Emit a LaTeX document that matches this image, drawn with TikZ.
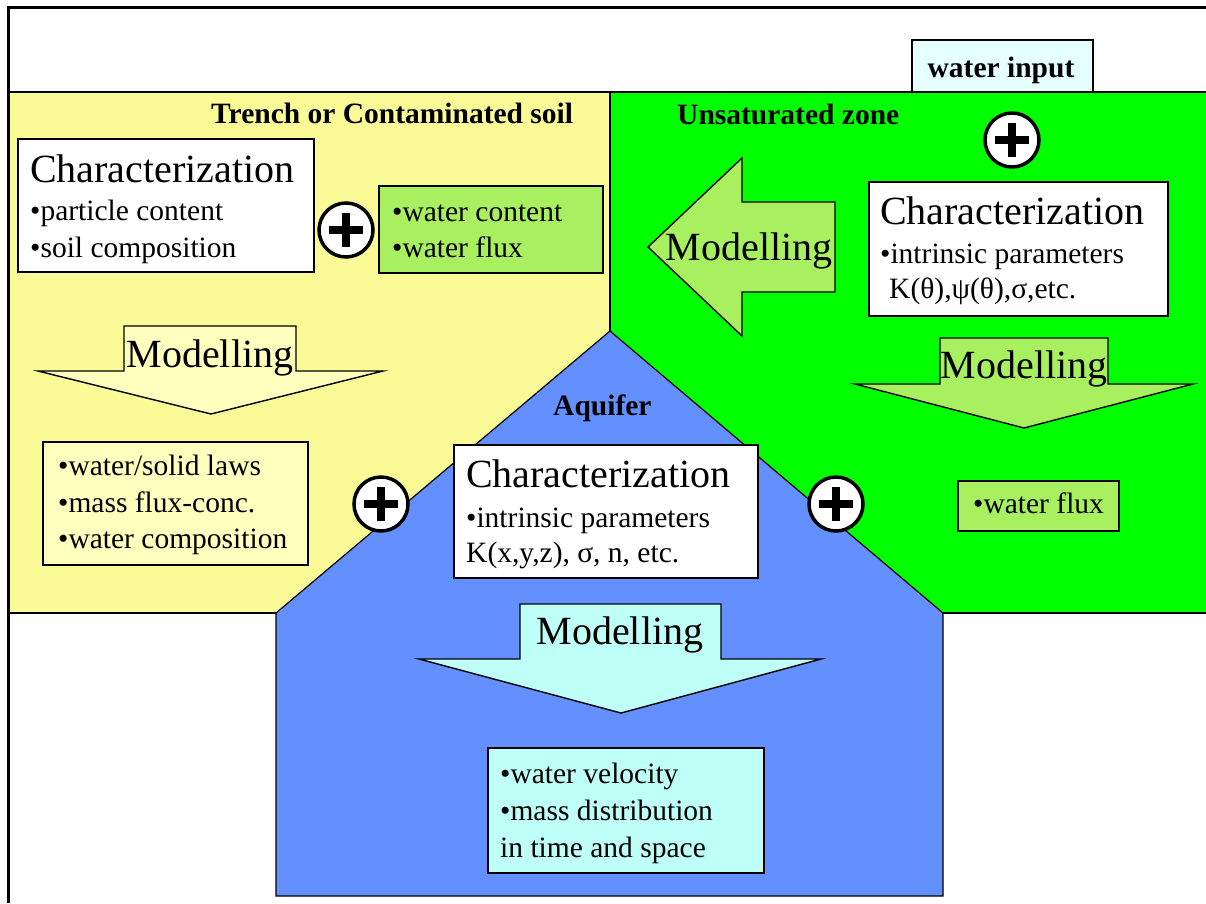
\documentclass[tikz,border=0pt]{standalone}
\usepackage{fontspec}
\setmainfont{Liberation Serif}
\definecolor{yel}{RGB}{250,250,150}
\definecolor{grn}{RGB}{0,255,0}
\definecolor{blu}{RGB}{100,144,255}
\definecolor{lgrn}{RGB}{168,240,96}
\definecolor{lyel}{RGB}{255,255,190}
\definecolor{lcyan}{RGB}{190,255,248}
\definecolor{wcyan}{RGB}{230,255,255}
\newcommand\fbig{\fontsize{40}{46}\selectfont}
\newcommand\fbody{\fontsize{29.5}{35}\selectfont}
\newcommand\fbold{\fontsize{29.5}{35}\selectfont\bfseries}
\begin{document}
\begin{tikzpicture}[x=1pt,y=-1pt,
  zone/.style={draw=black, line width=1.2pt},
  boxr/.style={draw=black, line width=1.4pt},
  arr/.style={draw=black, line width=1.4pt, line join=miter},
  txt/.style={anchor=base west, inner sep=0pt, font=\fbody},
  big/.style={anchor=base west, inner sep=0pt, font=\fbig},
  bigc/.style={anchor=base, inner sep=0pt, font=\fbig},
  ttl/.style={anchor=base west, inner sep=0pt, font=\fbold},
  plusc/.style={circle, draw=black, line width=3.5pt, fill=white, minimum size=54pt, inner sep=0pt,
    path picture={
      \draw[line width=8pt] ([xshift=-17pt]path picture bounding box.center) -- ([xshift=17pt]path picture bounding box.center);
      \draw[line width=8pt] ([yshift=-17pt]path picture bounding box.center) -- ([yshift=17pt]path picture bounding box.center);
    }}
]
\useasboundingbox (0,0) rectangle (1206,903);
\fill[white] (0,0) rectangle (1206,903);

% zones
\draw[zone, fill=yel] (8,92) rectangle (610,613);
\draw[zone, fill=grn] (610,92) rectangle (1212,613);
\draw[zone, fill=blu] (610,331) -- (943,613) -- (943,896) -- (276,896) -- (276,613) -- cycle;

% zone titles
\node[ttl] (ttrench) at (211,123) {Trench or Contaminated soil};
\node[ttl] (tunsat) at (677,124) {Unsaturated zone};
\node[ttl] (taqui) at (553,415) {Aquifer};

% water input
\draw[boxr, fill=wcyan] (912,40) rectangle (1093,92);
\node[inner sep=0pt, anchor=base, font=\fbold] (winput) at (1001,77) {water input};

% left characterization
\draw[boxr, fill=white] (18,139) rectangle (314,272);
\node[big] (cl1) at (30,182) {Characterization};
\node[txt] (cl2) at (30,220) {•particle content};
\node[txt] (cl3) at (30,257) {•soil composition};

\node[plusc] (p1) at (346,230) {};

\draw[boxr, fill=lgrn] (379,186) rectangle (603,273);
\node[txt] (wc1) at (392,221) {•water content};
\node[txt] (wc2) at (392,257) {•water flux};

% left modelling arrow (down)
\draw[arr, fill=lyel] (124,326) -- (296,326) -- (296,371) -- (383,371) -- (211,414) -- (38,371) -- (124,371) -- cycle;
\node[bigc] (ml) at (210,367) {Modelling};

\draw[boxr, fill=lyel] (43,442) rectangle (308,565);
\node[txt] (rl1) at (58,475) {•water/solid laws};
\node[txt] (rl2) at (58,512) {•mass flux-conc.};
\node[txt] (rl3) at (58,548) {•water composition};

% unsaturated zone
\node[plusc] (p2) at (1012,140) {};

\draw[arr, fill=lgrn] (648,247) -- (742,158) -- (742,202) -- (835,202) -- (835,292) -- (742,292) -- (742,336) -- cycle;
\node[bigc] (mu) at (749,260) {Modelling};

\draw[boxr, fill=white] (869,182) rectangle (1168,316);
\node[big] (cr1) at (880,224) {Characterization};
\node[txt] (cr2) at (880,263) {•intrinsic parameters};
\node[txt] (cr3) at (889,298) {K(θ),ψ(θ),σ,etc.};

\draw[arr, fill=lgrn] (940,338) -- (1108,338) -- (1108,384) -- (1193,384) -- (1024,428) -- (855,384) -- (940,384) -- cycle;
\node[bigc] (mr) at (1024,378) {Modelling};

\draw[boxr, fill=lgrn] (958,481) rectangle (1119,531);
\node[txt] (wf) at (973,513) {•water flux};

\node[plusc] (p3) at (836,504) {};

% aquifer
\node[plusc] (p4) at (381,504) {};

\draw[boxr, fill=white] (454,445) rectangle (758,578);
\node[big] (ca1) at (466,487) {Characterization};
\node[txt] (ca2) at (466,527) {•intrinsic parameters};
\node[txt] (ca3) at (466,562) {K(x,y,z), σ, n, etc.};

\draw[arr, fill=lcyan] (520,604) -- (721,604) -- (721,659) -- (821,659) -- (621,713) -- (419,659) -- (520,659) -- cycle;
\node[bigc] (ma) at (620,644) {Modelling};

\draw[boxr, fill=lcyan] (488,748) rectangle (764,873);
\node[txt] (ra1) at (500,783) {•water velocity};
\node[txt] (ra2) at (500,820) {•mass distribution};
\node[txt] (ra3) at (500,857) {in time and space};

% frame
\draw[line width=3pt] (1206,7) -- (8,7) -- (8,903);
\end{tikzpicture}
\end{document}
